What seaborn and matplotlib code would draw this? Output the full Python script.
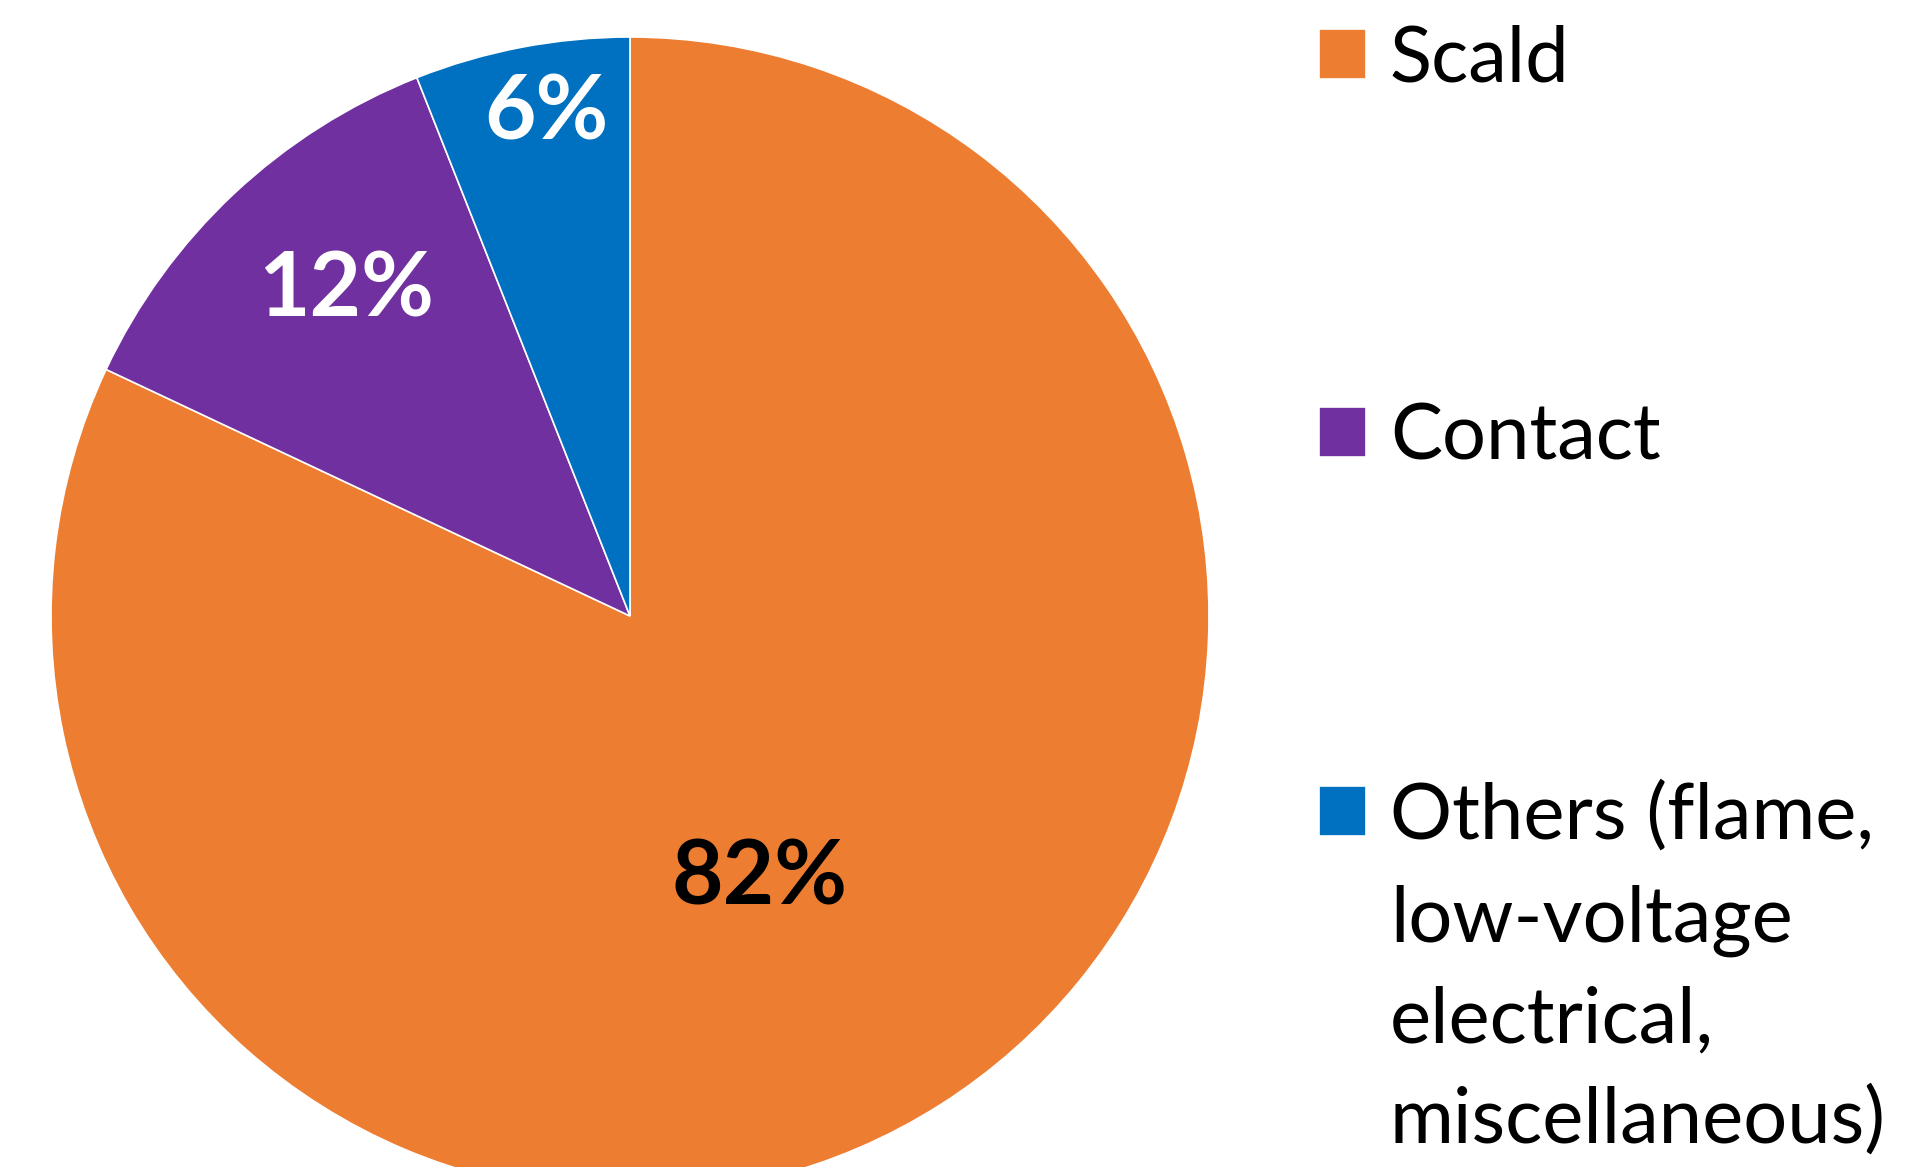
import matplotlib
matplotlib.use("Agg")
import matplotlib.pyplot as plt
import seaborn as sns
import numpy as np

categories = ["Scald", "Contact", "Others (flame,"]
others_continuation = "low-voltage\nelectrical,\nmiscellaneous)"
values = [82, 12, 6]
colors = ["#ED7D31", "#7030A0", "#0070C0"]
pct_labels = ["82%", "12%", "6%"]
label_colors = ["black", "white", "white"]
# label placement (radius fraction, angle in degrees)
label_radius = [0.506, 0.745, 0.88]
label_angle = [-63.8, 131.1, 99.4]

sns.set_theme(style="white")
plt.rcParams["font.family"] = ["Lato", "DejaVu Sans"]

W, H = 1908, 1167
fig = plt.figure(figsize=(W / 100, H / 100), dpi=100)
ax = fig.add_axes([51 / W, -28 / H, 1158 / W, 1158 / H])

wedges, _ = ax.pie(values, colors=colors, startangle=90, counterclock=False,
                   wedgeprops=dict(edgecolor="white", linewidth=1.2), radius=1.0)
ax.set_xlim(-1, 1)
ax.set_ylim(-1, 1)
ax.set_aspect("auto")
ax.axis("off")

for txt, c, r, a in zip(pct_labels, label_colors, label_radius, label_angle):
    th = np.deg2rad(a)
    ax.text(r * np.cos(th), r * np.sin(th), txt, color=c, fontsize=64,
            fontweight="bold", ha="center", va="center")

fs = 56
leg = fig.legend(wedges, categories, loc="upper left",
                 bbox_to_anchor=(1319 / W, 1 - 24 / H),
                 frameon=False, fontsize=fs, handlelength=0.61, handleheight=0.61,
                 handletextpad=0.3, labelspacing=3.95, borderpad=0, borderaxespad=0)
for t in leg.get_texts():
    t.set_color("black")

fig.canvas.draw()
r = fig.canvas.get_renderer()
bb = leg.get_texts()[2].get_window_extent(r)
line_step = 104  # pixels between baselines
fig.text(bb.x0 / W, (bb.y1 - line_step) / H, others_continuation, color="black",
         fontsize=fs, ha="left", va="top", linespacing=1.5)

fig.savefig("out.png", dpi=100)
